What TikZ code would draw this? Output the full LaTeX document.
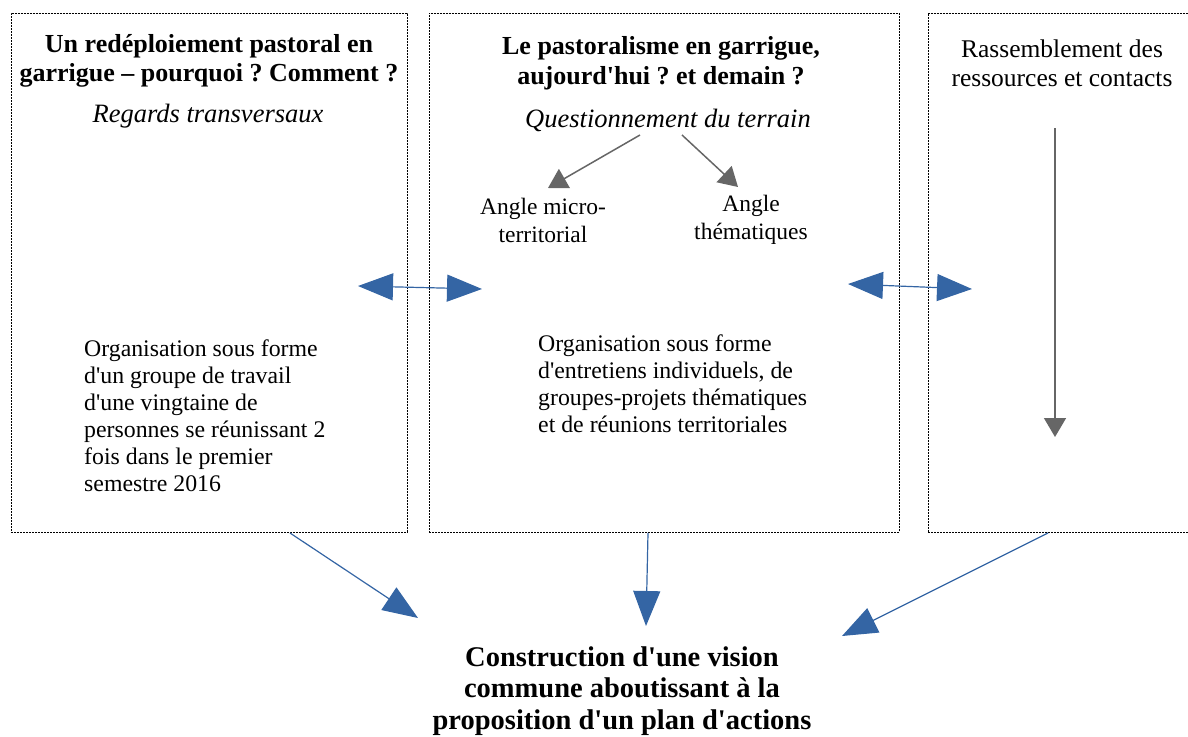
\documentclass[tikz,border=0pt]{standalone}
\usepackage{fontspec}
\setmainfont{Liberation Serif}[Ligatures=TeXOff]
\usetikzlibrary{arrows.meta}
\definecolor{bleu}{HTML}{3465A4}
\definecolor{gris}{HTML}{666666}
\frenchspacing

\begin{document}
\begin{tikzpicture}[x=1pt,y=-1pt,
  cadre/.style = {draw,dash pattern=on 2pt off 1pt,line width=.8pt,anchor=north west,inner sep=0pt,minimum height=519pt},
  titre/.style = {align=center,inner sep=0pt,font=\fontsize{26}{29.5}\selectfont\bfseries},
  sous/.style = {inner sep=0pt,font=\fontsize{26.5}{30}\selectfont\itshape},
  corps/.style = {align=left,anchor=north west,inner sep=0pt,font=\fontsize{23.8}{27}\selectfont},
  angle/.style = {align=center,inner sep=0pt,font=\fontsize{23.5}{28}\selectfont},
  lien/.style = {draw=bleu,line width=1.2pt,-{Triangle[length=35pt,width=27pt]}},
  liens/.style = {draw=bleu,line width=1.2pt,{Triangle[length=35pt,width=27pt]}-{Triangle[length=35pt,width=27pt]}},
  pointe/.style = {draw=gris,line width=1.5pt,-{Triangle[length=19pt,width=22pt]}}]
\useasboundingbox (0,0) rectangle (1188,736);
% les trois cadres
\node[cadre,minimum width=396pt] (gauche) at (11,13) {};
\node[cadre,minimum width=470pt] (centre) at (429,13) {};
\node[cadre,minimum width=280pt] (droite) at (928,13) {};
% cadre de gauche
\node[titre] (titre1) at (209,61) {Un redéploiement pastoral en\\garrigue – pourquoi ? Comment ?};
\node[sous] (regards) at (208,116) {Regards transversaux};
\node[corps] (orga1) at (84,340) {Organisation sous forme\\d'un groupe de travail\\d'une vingtaine de\\personnes se réunissant 2\\fois dans le premier\\semestre 2016};
% cadre du centre
\node[titre] (titre2) at (661,63) {Le pastoralisme en garrigue,\\aujourd'hui ? et demain ?};
\node[sous] (quest) at (668,120) {Questionnement du terrain};
\node[angle] (micro) at (543,220) {Angle micro-\\territorial};
\node[angle] (theme) at (751,220) {Angle\\thématiques};
\node[corps] (orga2) at (538,335) {Organisation sous forme\\d'entretiens individuels, de\\groupes-projets thématiques\\et de réunions territoriales};
% cadre de droite
\node[angle,font=\fontsize{25.5}{29}\selectfont] (rass) at (1062,63) {Rassemblement des\\ressources et contacts};
% resultat
\node[titre,font=\fontsize{28.5}{31.5}\selectfont\bfseries] (vision) at (622,691) {Construction d'une vision\\commune aboutissant à la\\proposition d'un plan d'actions};
% extremites des fleches
\coordinate (q1) at (640,135);
\coordinate (q2) at (682,135);
\coordinate (m1) at (548,188);
\coordinate (t1) at (738,187);
\coordinate (r1) at (1055,128);
\coordinate (r2) at (1055,437);
\coordinate (ga) at (358,286);
\coordinate (ca) at (482,289);
\coordinate (cb) at (848,284);
\coordinate (da) at (972,289);
\coordinate (g0) at (290,533);
\coordinate (g1) at (418,618);
\coordinate (c0) at (648,533);
\coordinate (c1) at (646,626);
\coordinate (d0) at (1048,533);
\coordinate (d1) at (842,636);
% fleches
\draw[pointe] (q1) -- (m1);
\draw[pointe] (q2) -- (t1);
\draw[pointe] (r1) -- (r2);
\draw[liens] (ga) -- (ca);
\draw[liens] (cb) -- (da);
\draw[lien] (g0) -- (g1);
\draw[lien] (c0) -- (c1);
\draw[lien] (d0) -- (d1);
\end{tikzpicture}
\end{document}
